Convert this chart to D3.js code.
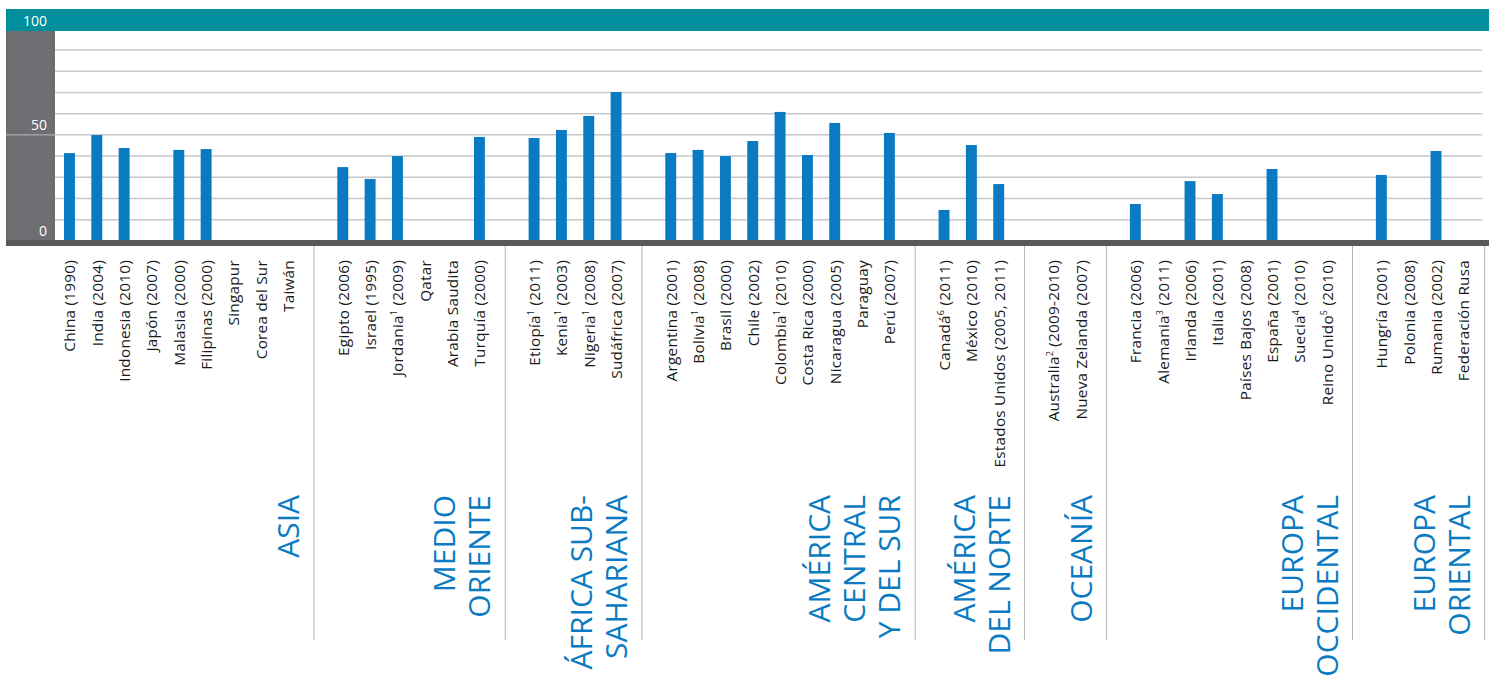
<!DOCTYPE html>
<html><head><meta charset="utf-8">
<script src="https://cdn.jsdelivr.net/npm/d3@7"></script>
<style>html,body{margin:0;padding:0;background:#fff;}svg{display:block;font-family:"Open Sans",sans-serif;}</style>
</head><body>
<svg id="chart" width="1489" height="675"></svg>
<script>
// ---------- data ----------
const groupNames = ["ASIA", "MEDIO\nORIENTE", "ÁFRICA SUB-\nSAHARIANA", "AMÉRICA\nCENTRAL\nY DEL SUR", "AMÉRICA\nDEL NORTE", "OCEANÍA", "EUROPA\nOCCIDENTAL", "EUROPA\nORIENTAL"];
const groupSizes = [9, 6, 4, 9, 3, 2, 8, 4];
const countries = [
  "China (1990)", "India (2004)", "Indonesia (2010)", "Japón (2007)", "Malasia (2000)", "Filipinas (2000)", "Singapur", "Corea del Sur", "Taiwán",
  "Egipto (2006)", "Israel (1995)", "Jordania^1 (2009)", "Qatar", "Arabia Saudita", "Turquía (2000)",
  "Etiopía^1 (2011)", "Kenia^1 (2003)", "Nigeria^1 (2008)", "Sudáfrica (2007)",
  "Argentina (2001)", "Bolivia^1 (2008)", "Brasil (2000)", "Chile (2002)", "Colombia^1 (2010)", "Costa Rica (2000)", "Nicaragua (2005)", "Paraguay", "Perú (2007)",
  "Canadá^6 (2011)", "México (2010)", "Estados Unidos (2005, 2011)",
  "Australia^2 (2009-2010)", "Nueva Zelanda (2007)",
  "Francia (2006)", "Alemania^3 (2011)", "Irlanda (2006)", "Italia (2001)", "Países Bajos (2008)", "España (2001)", "Suecia^4 (2010)", "Reino Unido^5 (2010)",
  "Hungría (2001)", "Polonia (2008)", "Rumania (2002)", "Federación Rusa"
];
const values = [
  41.4, 49.9, 43.8, null, 42.9, 43.3, null, null, null,
  34.8, 29.2, 40.0, null, null, 49.0,
  48.5, 52.3, 58.9, 70.2,
  41.4, 42.9, 40.0, 47.1, 60.8, 40.5, 55.6, null, 50.9,
  14.6, 45.2, 26.8,
  null, null,
  17.4, null, 28.2, 22.1, null, 33.9, null, null,
  31.1, null, 42.4, null
];
const yTickLabels = [0, 50, 100];
const gridValues = [10, 20, 30, 40, 50, 60, 70, 80, 90];

// ---------- layout ----------
const svg = d3.select("#chart");
const colTeal = "#008f9c", colPanel = "#6d6e71", colAxis = "#58595b", colBar = "#0a7bc2", colGrid = "#c8c8c8";

// build slots: countries plus one empty slot between groups
const slots = [];
let ci = 0;
groupSizes.forEach((n, g) => {
  for (let k = 0; k < n; k++) { slots.push("c" + ci); ci++; }
  if (g < groupSizes.length - 1) slots.push("gap" + g);
});

const x = d3.scaleBand().domain(slots).range([55.8, 1477]).padding(0);
const y = d3.scaleLinear().domain([0, 100]).range([240.9, 28.8]);
const barW = x.bandwidth() * 0.4;

// teal top band
svg.append("rect").attr("x", 6).attr("y", 9).attr("width", 1483).attr("height", y(100) + 2.2 - 9).attr("fill", colTeal);
// grey left panel
svg.append("rect").attr("x", 6).attr("y", y(100) + 2.2).attr("width", 49).attr("height", y(0) - y(100) - 2.2).attr("fill", colPanel);

// gridlines
svg.append("g").selectAll("line").data(gridValues).join("line")
  .attr("x1", 55).attr("x2", 1482)
  .attr("y1", d => y(d)).attr("y2", d => y(d))
  .attr("stroke", colGrid).attr("stroke-width", 1.5);
// 50 line continues across the grey panel
svg.append("line").attr("x1", 6).attr("x2", 55).attr("y1", y(50)).attr("y2", y(50))
  .attr("stroke", "#a9aaac").attr("stroke-width", 1.2);

// bars
svg.append("g").selectAll("rect").data(values.map((v, i) => ({v, i})).filter(d => d.v != null)).join("rect")
  .attr("x", d => x("c" + d.i) + x.bandwidth() / 2 - barW / 2)
  .attr("width", barW)
  .attr("y", d => y(d.v))
  .attr("height", d => y(0) - y(d.v))
  .attr("fill", colBar);

// bottom axis bar
svg.append("rect").attr("x", 6).attr("y", 240).attr("width", 1483).attr("height", 6).attr("fill", colAxis);

// y tick labels
svg.append("g").selectAll("text").data(yTickLabels).join("text")
  .attr("x", 47).attr("y", d => y(d) - (d === 100 ? 3 : 5))
  .attr("text-anchor", "end").attr("fill", "#fff").attr("font-size", 14)
  .text(d => d);

// group separators
const sepX = [];
for (let g = 0; g < groupSizes.length - 1; g++) sepX.push(x("gap" + g) + x.bandwidth() / 2 - 1.5);
sepX.push(x("c" + (countries.length - 1)) + x.bandwidth() * 0.78 + x.bandwidth() / 2);
svg.append("g").selectAll("line").data(sepX).join("line")
  .attr("x1", d => d).attr("x2", d => d).attr("y1", 246).attr("y2", 640)
  .attr("stroke", "#b4b4b4").attr("stroke-width", 1);

// country labels (rotated)
const lab = svg.append("g").selectAll("text").data(countries).join("text")
  .attr("transform", (d, i) => `translate(${x("c" + i) + x.bandwidth() / 2 + 6},260) rotate(-90)`)
  .attr("text-anchor", "end").attr("fill", "#1a1a1a").attr("font-size", 15.3)
  .attr("letter-spacing", 0.25);
lab.each(function(d) {
  const t = d3.select(this);
  const m = d.match(/^(.*?)\^(\d)(.*)$/);
  if (m) {
    t.append("tspan").text(m[1]);
    t.append("tspan").attr("font-size", 9).attr("dy", -6).text(m[2]);
    t.append("tspan").attr("dy", 6).text(m[3]);
  } else t.text(d);
});

// group labels
groupNames.forEach((name, g) => {
  const lines = name.split("\n");
  const base = sepX[g] - 15;
  lines.forEach((ln, j) => {
    const bx = base - (lines.length - 1 - j) * 35;
    svg.append("text")
      .attr("transform", `translate(${bx},495) rotate(-90)`)
      .attr("text-anchor", "end").attr("fill", colBar).attr("font-size", 30)
      .text(ln);
  });
});
</script>
</body></html>
